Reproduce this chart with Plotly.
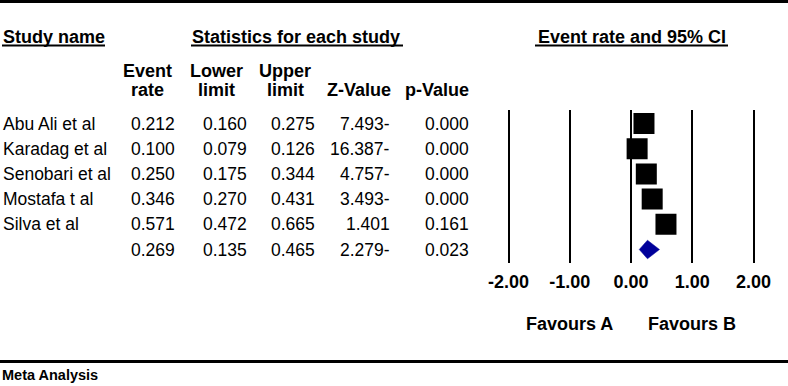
import plotly.graph_objects as go

# ---------------- data ----------------
studies = ["Abu Ali et al", "Karadag et al", "Senobari et al", "Mostafa t al", "Silva et al", ""]
event_rate = [0.212, 0.100, 0.250, 0.346, 0.571, 0.269]
lower_limit = [0.160, 0.079, 0.175, 0.270, 0.472, 0.135]
upper_limit = [0.275, 0.126, 0.344, 0.431, 0.665, 0.465]
z_value = [-7.493, -16.387, -4.757, -3.493, 1.401, -2.279]
p_value = [0.000, 0.000, 0.000, 0.000, 0.161, 0.023]
tick_vals = [-2, -1, 0, 1, 2]
tick_text = ["-2.00", "-1.00", "0.00", "1.00", "2.00"]

W, H = 788, 386
FONT = "Liberation Sans, Arial, sans-serif"
REG = 17.5
BOLD = 18

def px(x):
    return x / W

def py(y):
    return 1 - y / H

n_study = 5
rows = list(range(len(studies)))

# row pixel geometry
ROW0, ROWSTEP = 123.5, 25.2
top_px, bot_px = 110, 263
y_lo = (top_px - ROW0) / ROWSTEP
y_hi = (bot_px - ROW0) / ROWSTEP

# x axis geometry: -2 -> 508 px, 2 -> 753 px
ppu = (753 - 508) / 4
xr = [-2.2, 2.2]
dom_x = [px(631 + xr[0] * ppu), px(631 + xr[1] * ppu)]

fig = go.Figure()

fig.add_trace(go.Scatter(
    x=event_rate[:n_study], y=rows[:n_study], mode="markers",
    marker=dict(symbol="square", size=21, color="black", line=dict(width=0)),
    error_x=dict(type="data", symmetric=False,
                 array=[u - e for u, e in zip(upper_limit[:n_study], event_rate[:n_study])],
                 arrayminus=[e - l for e, l in zip(event_rate[:n_study], lower_limit[:n_study])],
                 color="black", thickness=1.5, width=0),
    hoverinfo="skip", showlegend=False))

s = n_study
h = 0.37
fig.add_trace(go.Scatter(
    x=[lower_limit[s], event_rate[s], upper_limit[s], event_rate[s], lower_limit[s]],
    y=[rows[s], rows[s] - h, rows[s], rows[s] + h, rows[s]],
    mode="lines", fill="toself", fillcolor="#00009A",
    line=dict(color="#00009A", width=0.5), hoverinfo="skip", showlegend=False))

ann = []

def add(text, x, y, xanchor="center", size=REG, bold=False, yref="paper"):
    t = f"<b>{text}</b>" if bold else text
    ann.append(dict(text=t, x=x, y=y, xref="paper", yref=yref, xanchor=xanchor,
                    yanchor="middle", showarrow=False, borderpad=0, borderwidth=0,
                    font=dict(family=FONT, size=size, color="black")))

add("Study name", px(3), py(37), "left", BOLD, True)
add("Statistics for each study", px(192), py(37), "left", BOLD, True)
add("Event rate and 95% CI", px(538), py(37), "left", BOLD, True)

col_centers = [147.5, 216, 285, 358.5, 436.5]
hdr1 = ["Event", "Lower", "Upper", "", ""]
hdr2 = ["rate", "limit", "limit", "Z-Value", "p-Value"]
for c, a, b in zip(col_centers, hdr1, hdr2):
    if a:
        add(a, px(c), py(71), "center", BOLD, True)
    add(b, px(c), py(90), "center", BOLD, True)

col_right = [175, 247, 315, 390, 469]
for i in rows:
    if studies[i]:
        add(studies[i], px(3), i, "left", REG, False, "y")
    zs = f"{abs(z_value[i]):.3f}" + ("-" if z_value[i] < 0 else "")
    vals = [f"{event_rate[i]:.3f}", f"{lower_limit[i]:.3f}", f"{upper_limit[i]:.3f}",
            zs, f"{p_value[i]:.3f}"]
    for r, v in zip(col_right, vals):
        add(v, px(r), i, "right", REG, False, "y")

for xv, t in [(-1, "Favours A"), (1, "Favours B")]:
    ann.append(dict(text=f"<b>{t}</b>", x=xv, y=py(324), xref="x", yref="paper",
                    xanchor="center", yanchor="middle", showarrow=False,
                    borderpad=0, borderwidth=0,
                    font=dict(family=FONT, size=BOLD, color="black")))

add("Meta Analysis", px(2), py(375), "left", 14.5, True)

shapes = [
    dict(type="line", xref="paper", yref="paper", x0=0, x1=1, y0=py(1.5), y1=py(1.5),
         line=dict(color="black", width=3)),
    dict(type="line", xref="paper", yref="paper", x0=0, x1=1, y0=py(361.5), y1=py(361.5),
         line=dict(color="black", width=3)),
    dict(type="line", xref="paper", yref="paper", x0=px(2), x1=px(105), y0=py(45.5), y1=py(45.5),
         line=dict(color="black", width=2)),
    dict(type="line", xref="paper", yref="paper", x0=px(191), x1=px(403), y0=py(45.5), y1=py(45.5),
         line=dict(color="black", width=2)),
    dict(type="line", xref="paper", yref="paper", x0=px(535), x1=px(728), y0=py(45.5), y1=py(45.5),
         line=dict(color="black", width=2)),
]

fig.update_layout(
    width=W, height=H, margin=dict(l=0, r=0, t=0, b=0, autoexpand=False),
    paper_bgcolor="white", plot_bgcolor="white",
    annotations=ann, shapes=shapes, showlegend=False,
    xaxis=dict(domain=dom_x, range=xr, tickvals=tick_vals, ticktext=tick_text,
               showgrid=True, gridcolor="black", gridwidth=2,
               zeroline=True, zerolinecolor="black", zerolinewidth=1.5,
               showline=False, ticks="", ticklabelstandoff=6, automargin=False,
               tickfont=dict(family=FONT, size=BOLD, color="black", weight="bold"),
               fixedrange=True),
    yaxis=dict(domain=[py(bot_px), py(top_px)], range=[y_hi, y_lo], automargin=False,
               showgrid=False, zeroline=False, showticklabels=False, ticks="",
               showline=False, fixedrange=True),
)

fig.write_html("out.html", config={"displayModeBar": False},
               post_script="document.body.style.margin='0';document.body.style.overflow='hidden';")
